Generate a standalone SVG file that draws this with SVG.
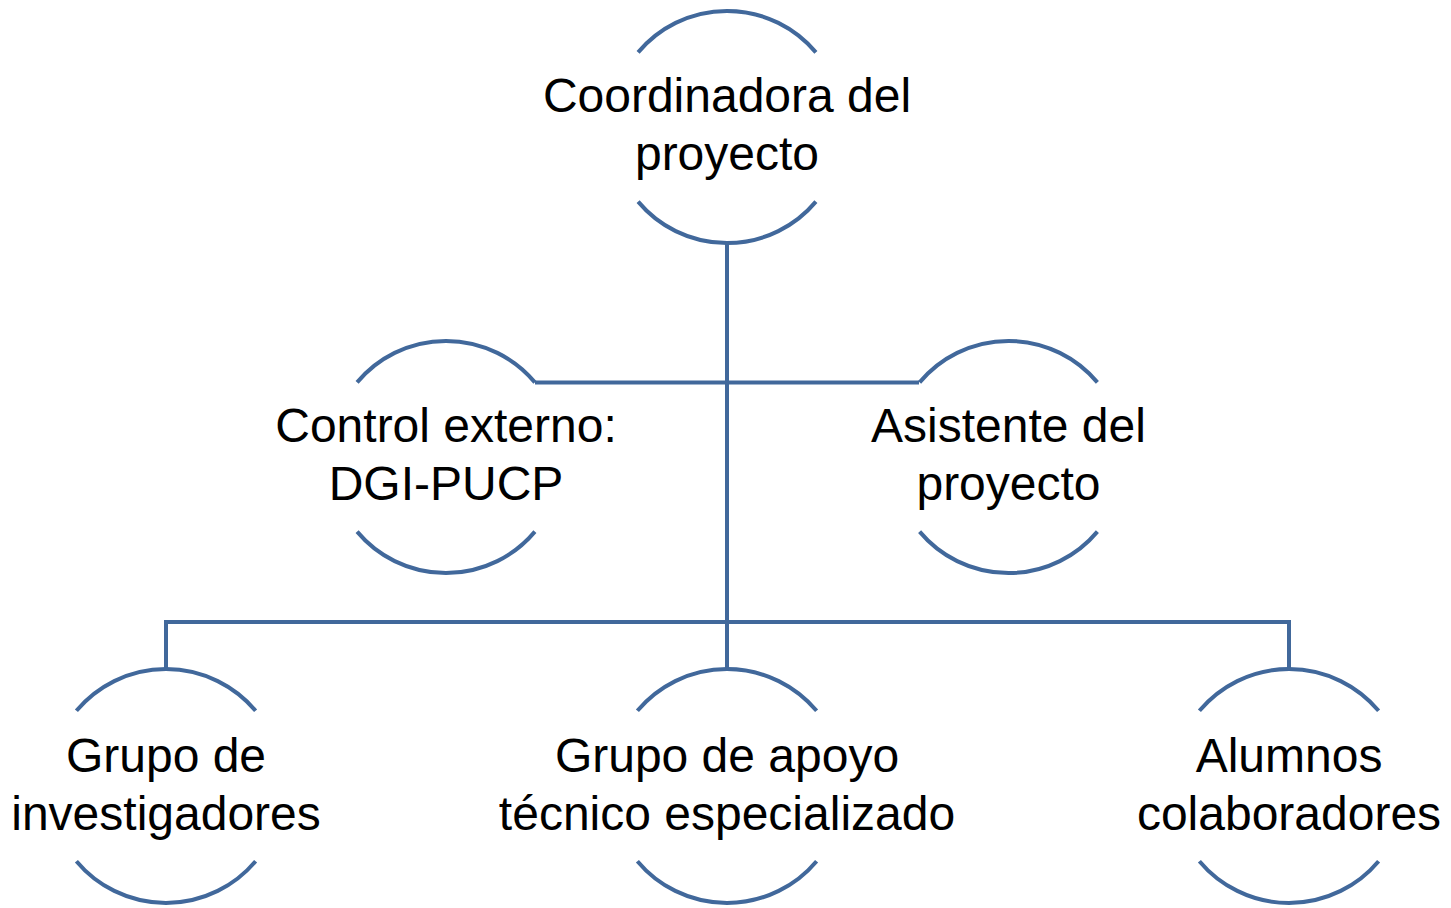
<svg xmlns="http://www.w3.org/2000/svg" width="1451" height="908" viewBox="0 0 1451 908">
<style>
.arc{fill:none;stroke:#41689B;stroke-width:4}
.ln{fill:none;stroke:#41689B;stroke-width:4}
.t{font-family:"Liberation Sans",Arial,sans-serif;font-size:48px;fill:#000;text-anchor:middle}
</style>
<rect width="1451" height="908" fill="#ffffff"/>
<g id="connectors">
<path class="ln" d="M727,242 V668"/>
<path class="ln" d="M535,382.4 H919"/>
<path class="ln" d="M166,668 V622 H1289 V668"/>
</g>
<g id="node-coordinadora">
<path class="arc" d="M638.1,52.4 A116,116 0 0 1 815.9,52.4"/>
<path class="arc" d="M638.1,201.6 A116,116 0 0 0 815.9,201.6"/>
<text class="t" x="727" y="112">Coordinadora del</text>
<text class="t" x="727" y="170">proyecto</text>
</g>
<g id="node-control">
<path class="arc" d="M357.1,382.4 A116,116 0 0 1 534.9,382.4"/>
<path class="arc" d="M357.1,531.6 A116,116 0 0 0 534.9,531.6"/>
<text class="t" x="446" y="442">Control externo:</text>
<text class="t" x="446" y="500">DGI-PUCP</text>
</g>
<g id="node-asistente">
<path class="arc" d="M919.6,382.4 A116,116 0 0 1 1097.4,382.4"/>
<path class="arc" d="M919.6,531.6 A116,116 0 0 0 1097.4,531.6"/>
<text class="t" x="1008.5" y="442">Asistente del</text>
<text class="t" x="1008.5" y="500">proyecto</text>
</g>
<g id="node-investigadores">
<path class="arc" d="M76.4,710.8 A117,117 0 0 1 255.6,710.8"/>
<path class="arc" d="M76.4,861.2 A117,117 0 0 0 255.6,861.2"/>
<text class="t" x="166" y="772">Grupo de</text>
<text class="t" x="166" y="830">investigadores</text>
</g>
<g id="node-apoyo">
<path class="arc" d="M637.4,710.8 A117,117 0 0 1 816.6,710.8"/>
<path class="arc" d="M637.4,861.2 A117,117 0 0 0 816.6,861.2"/>
<text class="t" x="727" y="772">Grupo de apoyo</text>
<text class="t" x="727" y="830">técnico especializado</text>
</g>
<g id="node-alumnos">
<path class="arc" d="M1199.4,710.8 A117,117 0 0 1 1378.6,710.8"/>
<path class="arc" d="M1199.4,861.2 A117,117 0 0 0 1378.6,861.2"/>
<text class="t" x="1289" y="772">Alumnos</text>
<text class="t" x="1289" y="830">colaboradores</text>
</g>
</svg>
